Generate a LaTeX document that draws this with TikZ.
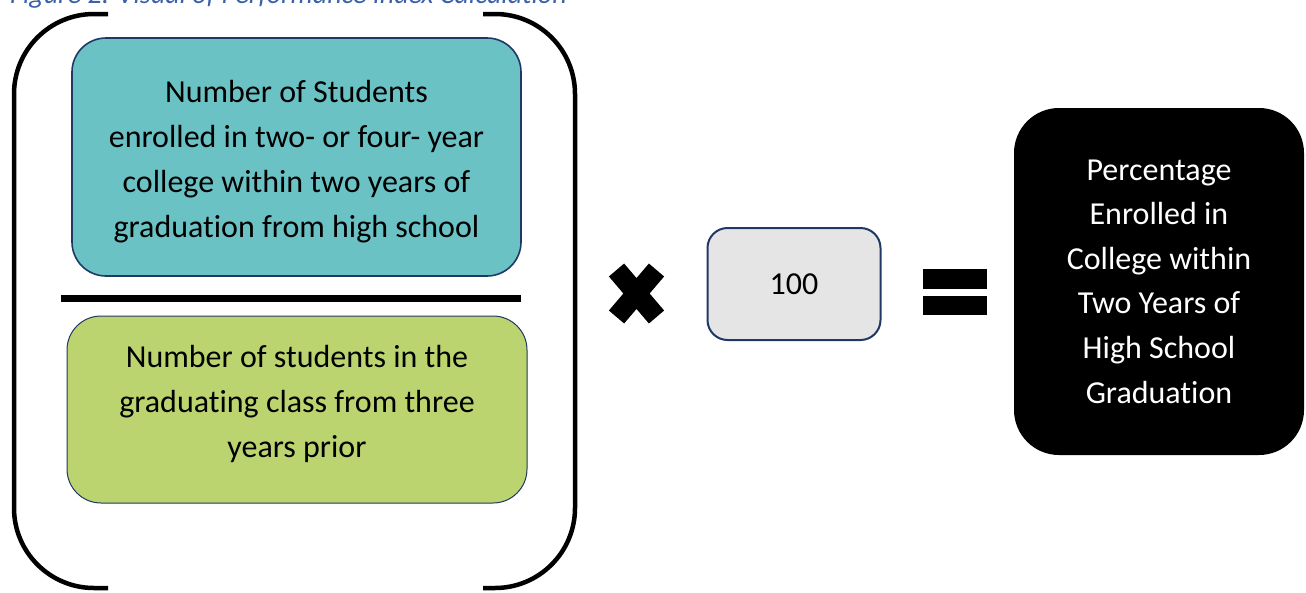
\documentclass[tikz,border=0pt]{standalone}
\usepackage{fontspec}
\setmainfont{Carlito}[Ligatures={NoCommon}]
\usepackage{tikz}
\usetikzlibrary{positioning, shapes.misc}

\definecolor{tealfill}{HTML}{6AC2C5}
\definecolor{greenfill}{HTML}{BBD470}
\definecolor{boxline}{HTML}{1F3864}
\definecolor{captionblue}{HTML}{3A62A8}

\begin{document}
\begin{tikzpicture}[
  x=1pt, y=-1pt,
  term box/.style={draw=boxline, line width=1.6pt, rounded corners=34pt, align=center, inner sep=0pt, font=\fontsize{32}{45}\selectfont},
  bracket/.style={line width=4.5pt, rounded corners=80pt},
  result box/.style={fill=black, text=white, rounded corners=45pt, align=center, font=\fontsize{32}{44.6}\selectfont},
  fig caption/.style={font=\fontsize{28}{30}\selectfont\itshape, text=captionblue, anchor=base west, inner sep=0pt}
]
  \useasboundingbox (0,0) rectangle (1306,592);
  \node[fig caption] (caption) at (10,3) {Figure 2: Visual of Performance Index Calculation};

  % Fraction
  \draw[bracket] (108,14) -- (14,14) -- (14,588) -- (108,588);
  \draw[bracket] (483,14) -- (575,14) -- (575,588) -- (483,588);
  \node[term box, fill=tealfill, minimum width=449pt, minimum height=238pt] (enrolled) at (296.5,157)
    {\rule{0pt}{31pt}Number of Students\\enrolled in two- or four- year\\college within two years of\\graduation from high school};
  \draw[line width=7pt] (61,298) -- (521,298);
  \node[term box, fill=greenfill, line width=1pt, minimum width=460pt, minimum height=187pt] (graduating) at (297,409.5)
    {Number of students in the\\graduating class from three\\years prior\rule[-17pt]{0pt}{17pt}};

  % Times 100
  \node[cross out, draw, line width=20pt, outer sep=0pt, inner sep=0pt, minimum width=40pt, minimum height=47pt] (times) at (636.5,293.5) {};
  \node[term box, fill=black!10, line width=2pt, rounded corners=20pt, minimum width=173pt, minimum height=112pt, font=\fontsize{32}{36}\selectfont] (hundred) at (794,284) {100};

  % Equals
  \fill (923,269) rectangle (987,289);
  \fill (923,296) rectangle (987,315);

  % Result
  \node[result box, minimum width=290pt, minimum height=347pt] (percentage) at (1159,281.5)
    {Percentage\\Enrolled in\\College within\\Two Years of\\High School\\Graduation};
\end{tikzpicture}
\end{document}
